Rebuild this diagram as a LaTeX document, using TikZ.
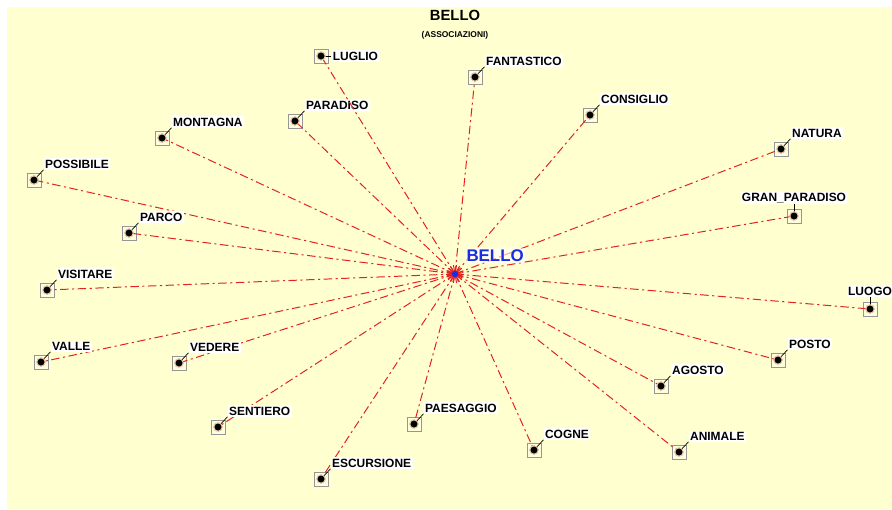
\documentclass[tikz,border=0pt]{standalone}
\usepackage{fontspec}
\setmainfont{Liberation Sans}
\usetikzlibrary{calc, positioning}
\definecolor{bgyellow}{RGB}{255,255,208}
\definecolor{linkred}{RGB}{228,32,32}
\definecolor{boxgray}{RGB}{150,150,150}
\definecolor{hubblue}{RGB}{25,45,225}

\begin{document}
\begin{tikzpicture}[x=0.025cm, y=-0.025cm,
    link/.style={draw=linkred, line width=0.7pt, dash pattern=on 6pt off 2.5pt on 1.5pt off 2.5pt},
    cell/.style={draw=boxgray, fill=bgyellow!70!white, minimum size=10pt, inner sep=0pt},
    dot/.style={circle, fill=black, draw=brown!45, line width=0.8pt, minimum size=6pt, inner sep=0pt},
    word/.style={fill=white, font=\fontsize{8.5}{10}\selectfont\bfseries, inner sep=1pt},
    leader/.style={draw=black, line width=0.5pt}]
    % Frame
    \useasboundingbox (0,0) rectangle (892,509);
    \fill[white] (0,0) rectangle (892,509);
    \fill[bgyellow] (7,7) rectangle (892,509);
    % Title
    \node[font=\fontsize{10.5}{12}\selectfont\bfseries] (title) at (455,15) {BELLO};
    \node[below=1pt of title, font=\fontsize{6}{7}\selectfont\bfseries] (subtitle) {(ASSOCIAZIONI)};
    \coordinate (hub) at (455,274);
    % Associated words: label above right
    \foreach \i/\x/\y/\t in {1/475/77/FANTASTICO, 2/590/115/CONSIGLIO, 3/295/121/PARADISO,
        4/162/138/MONTAGNA, 5/781/149/NATURA, 6/34/180/POSSIBILE, 7/129/233/PARCO,
        8/47/290/VISITARE, 9/41/362/VALLE, 10/179/363/VEDERE, 11/778/360/POSTO,
        12/661/386/AGOSTO, 13/218/427/SENTIERO, 14/414/424/PAESAGGIO, 15/534/450/COGNE,
        16/679/452/ANIMALE, 17/321/479/ESCURSIONE} {
      \node[cell] (c\i) at (\x,\y) {};
      \draw[link] (hub) -- (c\i.center);
      \node[word, above right=2pt and 1.5pt of c\i.north east] (l\i) {\t};
      \draw[leader] (c\i.center) -- (l\i.south west);
      \node[dot] (d\i) at (c\i.center) {};
    }
    % Label to the right
    \node[cell] (c0) at (321,56) {};
    \draw[link] (hub) -- (c0.center);
    \node[word, right=2pt of c0.east] (l0) {LUGLIO};
    \draw[leader] (c0.center) -- (l0.west);
    \node[dot] (d0) at (c0.center) {};
    % Labels above
    \foreach \i/\x/\y/\t in {18/794/216/GRAN\_PARADISO, 19/870/309/LUOGO} {
      \node[cell] (c\i) at (\x,\y) {};
      \draw[link] (hub) -- (c\i.center);
      \node[word, above=3pt of c\i.north] (l\i) {\t};
      \draw[leader] (c\i.center) -- (l\i.south);
      \node[dot] (d\i) at (c\i.center) {};
    }
    % Centre word
    \foreach \a in {0,20,...,340} {
      \draw[linkred, line width=0.7pt] (hub) -- ++(\a:9);
    }
    \node[circle, fill=hubblue, inner sep=0pt, minimum size=4.5pt] (hubdot) at (hub) {};
    \node[above right=7.5pt and 7pt of hub, fill=white, fill opacity=0.6, text opacity=1,
      inner sep=1pt, text=hubblue, font=\fontsize{12}{14}\selectfont\bfseries] (centre) {BELLO};
\end{tikzpicture}
\end{document}
